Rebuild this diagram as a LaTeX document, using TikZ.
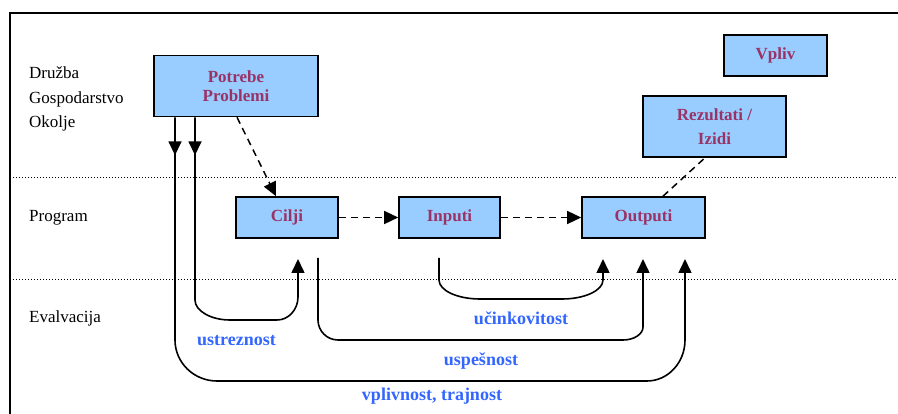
\documentclass[tikz,border=0pt]{standalone}
\usepackage{fontspec}
\setmainfont{Liberation Serif}
\usetikzlibrary{arrows.meta,decorations.markings}
\definecolor{boxfill}{HTML}{99CCFF}
\definecolor{boxtext}{HTML}{993366}
\definecolor{evaltext}{HTML}{3366FF}
\begin{document}
\begin{tikzpicture}[x=1pt,y=-1pt,
  box/.style={draw=black,line width=1.6pt,fill=boxfill,inner sep=0pt,
    font=\fontsize{17}{20}\selectfont\bfseries,text=boxtext,align=center},
  side/.style={anchor=base west,inner sep=0pt,font=\fontsize{17}{20}\selectfont},
  evallabel/.style={anchor=base,inner sep=0pt,font=\fontsize{18}{21}\selectfont\bfseries,text=evaltext},
  tip/.style={-{Triangle[length=14pt,width=13pt]}},
  flow/.style={line width=1.5pt,dash pattern=on 7pt off 5pt},
  loop/.style={line width=1.6pt},
  lane/.style={line width=0.9pt,dash pattern=on 1pt off 2pt},
  downtip/.style={postaction={decorate},decoration={markings,
    mark=at position 38pt with {\arrow{Triangle[length=14pt,width=13pt]}}}}]
\useasboundingbox (0,0) rectangle (898,414);

% outer frame
\draw[line width=1.5pt] (10,414) -- (10,13) -- (898,13);

% lane separators
\draw[lane] (10,177) -- (898,177);
\draw[lane] (10,279) -- (898,279);

% lane captions
\node[side] (druzba) at (29,79) {Družba};
\node[side] (gosp) at (29,103.5) {Gospodarstvo};
\node[side] (okolje) at (29,128) {Okolje};
\node[side] (program) at (29,222) {Program};
\node[side] (eval) at (29,323) {Evalvacija};

% boxes
\node[box,minimum width=164pt,minimum height=61pt] (potrebe) at (236,86) {Potrebe\\[-1pt]Problemi};
\node[box,minimum width=103pt,minimum height=41pt] (vpliv) at (775.5,55.5) {Vpliv};
\node[box,minimum width=143pt,minimum height=61pt] (rezultati) at (714.5,126.5) {Rezultati /\\[4pt]Izidi};
\node[box,minimum width=102pt,minimum height=41pt] (cilji) at (287,217.5) {Cilji};
\node[box,minimum width=101pt,minimum height=41pt] (inputi) at (449.5,217.5) {Inputi};
\node[box,minimum width=123pt,minimum height=41pt] (outputi) at (643.5,217.5) {Outputi};

% free ends of the evaluation loops
\coordinate (ustrIn) at (298,259);
\coordinate (uspOut) at (318,258);
\coordinate (ucinOut) at (439,258);
\coordinate (ucinIn) at (603,259);
\coordinate (uspIn) at (643,259);
\coordinate (vplIn) at (685,259);

% dashed program flow
\draw[flow,tip] (potrebe.south -| 237,0) -- (cilji.north -| 276,0);
\draw[flow,tip] (cilji.east) -- (inputi.west);
\draw[flow,tip] (inputi.east) -- (outputi.west);
\draw[flow] (outputi.north -| 663,0) -- (rezultati.south -| 705,0);

% evaluation loops (elliptic corners)
\draw[loop,tip,downtip] (potrebe.south -| 195,0) -- (195,300)
  .. controls (195,311) and (211,320) .. (230,320) -- (277,320)
  .. controls (288.6,320) and (298,309.7) .. (298,297) -- (ustrIn);
\draw[loop,tip,downtip] (potrebe.south -| 175,0) -- (175,340)
  .. controls (175,362.6) and (193.8,381) .. (217,381) -- (647,381)
  .. controls (668,381) and (685,362.6) .. (685,340) -- (vplIn);
\draw[loop,tip] (uspOut) -- (318,320)
  .. controls (318,331) and (327,340) .. (338,340) -- (623,340)
  .. controls (634,340) and (643,334.2) .. (643,327) -- (uspIn);
\draw[loop,tip] (ucinOut) -- (439,280)
  .. controls (439,290.5) and (457.4,299) .. (480,299) -- (562,299)
  .. controls (584.6,299) and (603,290.5) .. (603,280) -- (ucinIn);

% loop labels
\node[evallabel] (ustreznost) at (236.5,345) {ustreznost};
\node[evallabel] (ucinkovitost) at (521,325) {učinkovitost};
\node[evallabel] (uspesnost) at (481,366) {uspešnost};
\node[evallabel] (vplivnost) at (432,400) {vplivnost, trajnost};
\end{tikzpicture}
\end{document}
